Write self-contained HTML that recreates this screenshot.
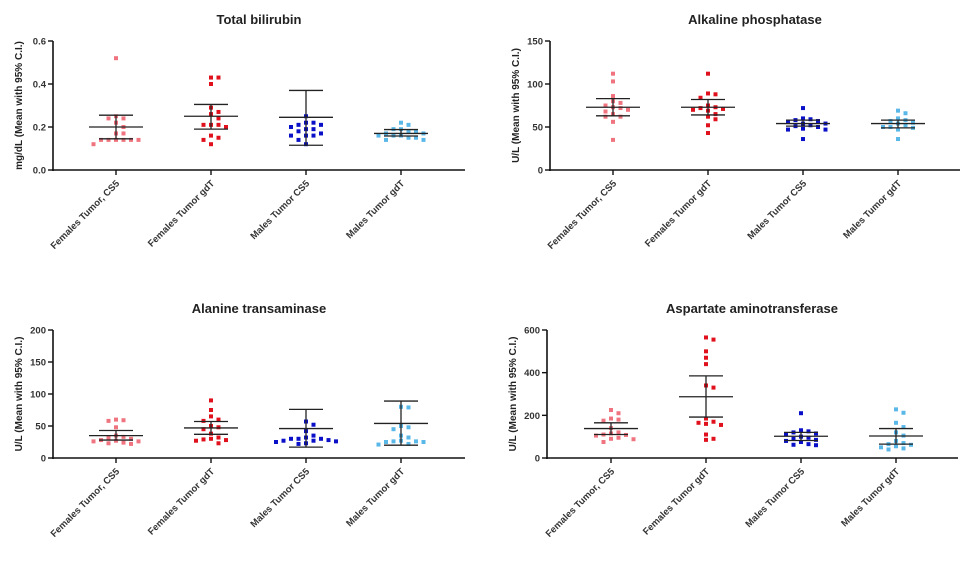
<!DOCTYPE html>
<html><head><meta charset="utf-8"><style>
html,body{margin:0;padding:0;background:#fff;}
svg{display:block;font-family:"Liberation Sans",Arial,sans-serif;}
</style></head><body>
<svg id="chart" width="971" height="569" viewBox="0 0 971 569"></svg>
<script>
const categories = ["Females Tumor, CS5","Females Tumor gdT","Males Tumor CS5","Males Tumor gdT"];
const colors = ["#f07480","#e0101c","#0a10c8","#5ab8e8"];

const tbilF1 = [0.52,0.25,0.24,0.24,0.22,0.2,0.17,0.17,0.14,0.14,0.14,0.14,0.14,0.14,0.12];
const tbilF2 = [0.43,0.43,0.40,0.29,0.27,0.26,0.24,0.21,0.21,0.21,0.2,0.16,0.15,0.14,0.12];
const tbilM1 = [0.25,0.22,0.22,0.21,0.21,0.2,0.19,0.19,0.18,0.17,0.16,0.16,0.16,0.14,0.12];
const tbilM2 = [0.22,0.21,0.19,0.19,0.18,0.18,0.17,0.17,0.16,0.16,0.16,0.15,0.15,0.14,0.14];
const tbilMean = [0.2,0.25,0.245,0.17];
const tbilLo = [0.145,0.19,0.115,0.158];
const tbilHi = [0.255,0.305,0.37,0.188];
const tbilTicks = [0,0.2,0.4,0.6];
const tbilTickLabels = ["0.0","0.2","0.4","0.6"];

const alpF1 = [112,103,86,80,78,75,73,72,70,68,65,62,62,56,35];
const alpF2 = [112,89,88,84,75,73,72,71,70,69,65,62,59,52,43];
const alpM1 = [72,60,59,58,57,56,54,54,52,51,50,48,47,47,36];
const alpM2 = [69,66,60,58,57,55,54,52,50,50,49,47,36];
const alpMean = [73,73,54,54];
const alpLo = [63,64,51,49];
const alpHi = [83,82,58,58];
const alpTicks = [0,50,100,150];
const alpTickLabels = ["0","50","100","150"];

const altF1 = [60,59,58,48,35,33,32,30,28,27,26,26,24,23,22];
const altF2 = [90,75,65,60,58,50,48,45,38,32,30,29,28,27,23];
const altM1 = [57,52,42,35,32,30,30,30,28,27,27,26,25,23,22];
const altM2 = [80,79,50,48,45,35,32,27,26,26,25,25,22,21];
const altMean = [35,47,46,54];
const altLo = [28,37,17,20];
const altHi = [43,57,76,89];
const altTicks = [0,50,100,150,200];
const altTickLabels = ["0","50","100","150","200"];

const astF1 = [225,210,185,180,175,140,120,115,110,108,105,95,90,88,75];
const astF2 = [565,555,500,470,440,340,330,185,170,165,160,155,110,90,85];
const astM1 = [210,130,125,120,115,110,100,95,90,85,80,75,65,62,60];
const astM2 = [228,212,165,145,120,105,80,70,65,62,55,50,45,40];
const astMean = [138,287,102,103];
const astLo = [110,192,82,65];
const astHi = [165,385,120,138];
const astTicks = [0,200,400,600];
const astTickLabels = ["0","200","400","600"];

const NS="http://www.w3.org/2000/svg";
const svg=document.getElementById('chart');
function mk(tag,attrs,parent){const e=document.createElementNS(NS,tag);for(const k in attrs)e.setAttribute(k,attrs[k]);(parent||svg).appendChild(e);return e;}

function drawPanel(p){
  const g=mk('g',{});
  
  
  const ymax=p.ticks[p.ticks.length-1];
  const y=v=>p.bottom-(v/ymax)*(p.bottom-p.top);
  const x=i=>p.x0+i*p.step;
  const t=mk('text',{x:p.titleX,y:p.titleY,'text-anchor':'middle','font-size':13,'font-weight':'bold',fill:'#222'},g);
  t.textContent=p.title;
  
  
  const yl=mk('text',{transform:`translate(${p.axisX-31},${(p.top+p.bottom)/2}) rotate(-90)`,'text-anchor':'middle','font-size':10,'font-weight':'bold',fill:'#222'},g);
  yl.textContent=p.ylabel;
  
  
  const ya=mk('line',{x1:p.axisX,y1:p.top,x2:p.axisX,y2:p.bottom+1,stroke:'#111','stroke-width':1.6},g);
  
  
  const xa=mk('line',{x1:p.axisX-1,y1:p.bottom,x2:p.xEnd,y2:p.bottom,stroke:'#111','stroke-width':1.6},g);
  
  
  p.ticks.forEach((tv,i)=>{
    mk('line',{x1:p.axisX-5,y1:y(tv),x2:p.axisX,y2:y(tv),stroke:'#111','stroke-width':1.4},g);
    const tl=mk('text',{x:p.axisX-7,y:y(tv)+3.5,'text-anchor':'end','font-size':9.5,'font-weight':'bold',fill:'#333'},g);
    tl.textContent=p.tickLabels[i];
    
    
  });
  categories.forEach((c,i)=>{
    const cx=x(i);
    mk('line',{x1:cx,y1:p.bottom,x2:cx,y2:p.bottom+5,stroke:'#111','stroke-width':1.4},g);
    const lab=mk('text',{transform:`translate(${cx+4},${p.bottom+14}) rotate(-45)`,'text-anchor':'end','font-size':9.5,'font-weight':'bold',fill:'#333'},g);
    lab.textContent=c;
    
    
    const vals=p.series[i];
    const placed=[];
    vals.forEach(v=>{
      const py=y(v);
      let off=0;
      for(let k=0;k<9;k++){
        const cand=(k%2?1:-1)*Math.ceil(k/2)*7.5;
        off=cand;
        if(!placed.some(q=>Math.abs(q[0]-cand)<7&&Math.abs(q[1]-py)<5)){break;}
      }
      placed.push([off,py]);
      const pt=mk('rect',{x:cx+off-2,y:py-2,width:4,height:4,fill:colors[i]},g);
      
      
    });
    const mcol='#222';
    const ml=mk('line',{x1:cx-27,y1:y(p.mean[i]),x2:cx+27,y2:y(p.mean[i]),stroke:mcol,'stroke-width':1.3},g);
    
    
    const el=mk('line',{x1:cx,y1:y(p.lo[i]),x2:cx,y2:y(p.hi[i]),stroke:mcol,'stroke-width':1.3},g);
    
    
    mk('line',{x1:cx-17,y1:y(p.lo[i]),x2:cx+17,y2:y(p.lo[i]),stroke:mcol,'stroke-width':1.3},g);
    mk('line',{x1:cx-17,y1:y(p.hi[i]),x2:cx+17,y2:y(p.hi[i]),stroke:mcol,'stroke-width':1.3},g);
  });
}

drawPanel({name:'total-bilirubin-panel',title:'Total bilirubin',titleX:259,titleY:24,ylabel:'mg/dL (Mean with 95% C.I.)',
  axisX:53,top:41,bottom:170,xEnd:465,x0:116,step:95,ticks:tbilTicks,tickLabels:tbilTickLabels,
  series:[tbilF1,tbilF2,tbilM1,tbilM2],mean:tbilMean,lo:tbilLo,hi:tbilHi});
drawPanel({name:'alkaline-phosphatase-panel',title:'Alkaline phosphatase',titleX:755,titleY:24,ylabel:'U/L (Mean with 95% C.I.)',
  axisX:550,top:41,bottom:170,xEnd:960,x0:613,step:95,ticks:alpTicks,tickLabels:alpTickLabels,
  series:[alpF1,alpF2,alpM1,alpM2],mean:alpMean,lo:alpLo,hi:alpHi});
drawPanel({name:'alanine-transaminase-panel',title:'Alanine transaminase',titleX:259,titleY:313,ylabel:'U/L (Mean with 95% C.I.)',
  axisX:53,top:330,bottom:458,xEnd:465,x0:116,step:95,ticks:altTicks,tickLabels:altTickLabels,
  series:[altF1,altF2,altM1,altM2],mean:altMean,lo:altLo,hi:altHi});
drawPanel({name:'aspartate-aminotransferase-panel',title:'Aspartate aminotransferase',titleX:752,titleY:313,ylabel:'U/L (Mean with 95% C.I.)',
  axisX:547,top:330,bottom:458,xEnd:958,x0:611,step:95,ticks:astTicks,tickLabels:astTickLabels,
  series:[astF1,astF2,astM1,astM2],mean:astMean,lo:astLo,hi:astHi});
</script>
</body></html>
